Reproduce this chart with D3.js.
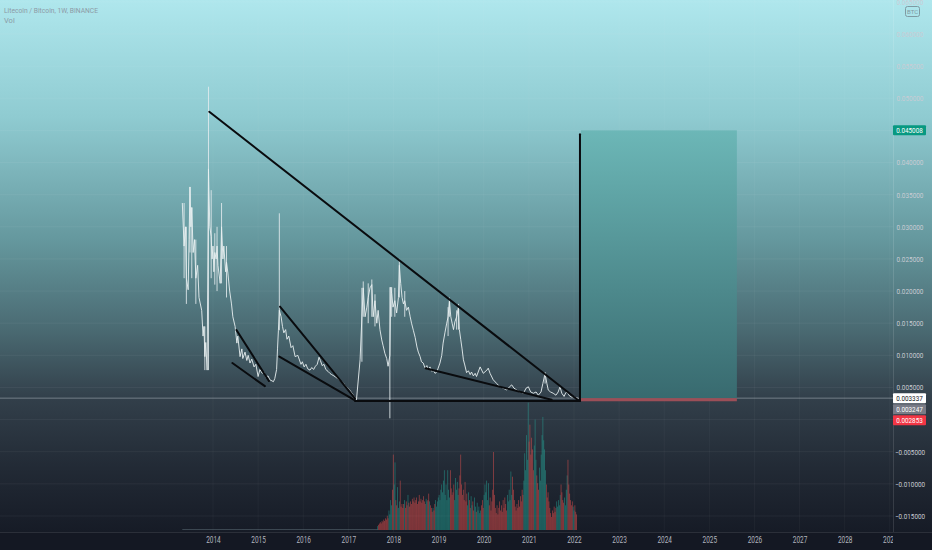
<!DOCTYPE html>
<html>
<head>
<meta charset="utf-8">
<script src="https://cdn.jsdelivr.net/npm/d3@7"></script>
<style>
html,body{margin:0;padding:0;background:#131722;overflow:hidden;}
svg{display:block;}
text{font-family:Roboto,"DejaVu Sans",sans-serif;}
</style>
</head>
<body>
<svg width="932" height="550"></svg>
<script>
// weekly closes, [decimal year, LTC/BTC]
var closes = [
 [2013.32,0.0337],[2013.36,0.027],[2013.39,0.030],[2013.41,0.022],[2013.45,0.0202],[2013.47,0.028],
 [2013.49,0.0362],[2013.51,0.030],[2013.53,0.033],[2013.56,0.026],[2013.59,0.028],[2013.62,0.022],
 [2013.66,0.024],[2013.69,0.019],[2013.75,0.017],[2013.78,0.013],[2013.80,0.0145],[2013.82,0.0098],
 [2013.84,0.012],[2013.87,0.0077],[2013.90,0.039],[2013.91,0.0357],[2013.93,0.030],[2013.96,0.0285],
 [2013.98,0.025],[2014.00,0.027],[2014.02,0.023],[2014.04,0.026],[2014.07,0.025],[2014.09,0.027],
 [2014.11,0.024],[2014.16,0.0212],[2014.19,0.030],[2014.22,0.025],[2014.24,0.027],[2014.28,0.023],
 [2014.30,0.0245],[2014.33,0.0228],[2014.37,0.020],[2014.41,0.018],[2014.44,0.016],[2014.49,0.0145],
 [2014.53,0.0119],[2014.55,0.0130],[2014.60,0.0098],[2014.64,0.0110],[2014.66,0.0095],[2014.71,0.0105],
 [2014.75,0.0092],[2014.78,0.0100],[2014.82,0.0088],[2014.86,0.0094],[2014.91,0.0082],[2014.95,0.0086],
 [2015.00,0.0067],[2015.04,0.0078],[2015.09,0.0072],[2015.13,0.0074],[2015.17,0.0066],[2015.22,0.0068],
 [2015.26,0.0062],[2015.34,0.0059],[2015.37,0.0064],[2015.41,0.0078],[2015.43,0.0110],[2015.45,0.0139],
 [2015.47,0.0170],[2015.51,0.0160],[2015.54,0.0145],[2015.57,0.0135],[2015.61,0.0140],[2015.64,0.0125],
 [2015.68,0.0130],[2015.73,0.0112],[2015.77,0.0115],[2015.82,0.0098],[2015.88,0.0100],[2015.95,0.0086],
 [2015.98,0.0090],[2016.02,0.0082],[2016.06,0.0086],[2016.10,0.0079],[2016.15,0.0077],[2016.19,0.0081],
 [2016.23,0.0078],[2016.27,0.0083],[2016.31,0.0086],[2016.35,0.0097],[2016.38,0.0092],[2016.42,0.0084],
 [2016.46,0.0086],[2016.50,0.0078],[2016.55,0.0075],[2016.59,0.0072],[2016.63,0.0070],[2016.68,0.0068],
 [2016.72,0.0066],[2016.76,0.0064],[2016.80,0.0061],[2016.85,0.0059],[2016.89,0.0057],[2016.94,0.0052],
 [2016.98,0.0049],[2017.03,0.0046],[2017.07,0.0042],[2017.11,0.0038],[2017.15,0.0034],[2017.18,0.0031],
 [2017.26,0.0093],[2017.30,0.0160],[2017.33,0.0205],[2017.37,0.0160],[2017.41,0.0175],[2017.44,0.0190],
 [2017.48,0.0205],[2017.52,0.0210],[2017.55,0.0160],[2017.59,0.0185],[2017.63,0.0150],[2017.66,0.0170],
 [2017.70,0.0140],[2017.74,0.0124],[2017.77,0.0115],[2017.81,0.0103],[2017.85,0.0095],[2017.88,0.0083],
 [2017.92,0.0100],[2017.94,0.0206],[2017.96,0.0196],[2017.99,0.0175],[2018.03,0.0185],[2018.07,0.0166],
 [2018.11,0.0190],[2018.13,0.0240],[2018.16,0.0212],[2018.19,0.0190],[2018.22,0.0180],[2018.25,0.0185],
 [2018.29,0.0170],[2018.33,0.0175],[2018.37,0.0160],[2018.40,0.0150],[2018.44,0.0139],[2018.48,0.0128],
 [2018.52,0.0113],[2018.55,0.0105],[2018.59,0.0098],[2018.62,0.0090],[2018.66,0.0088],[2018.70,0.0080],
 [2018.74,0.0084],[2018.77,0.0078],[2018.81,0.0082],[2018.85,0.0075],[2018.88,0.0077],[2018.92,0.0072],
 [2018.96,0.0074],[2018.99,0.0080],[2019.03,0.0088],[2019.07,0.0100],[2019.10,0.0119],[2019.14,0.0135],
 [2019.18,0.0150],[2019.21,0.0160],[2019.24,0.0185],[2019.27,0.0160],[2019.30,0.0150],[2019.33,0.0140],
 [2019.36,0.0152],[2019.40,0.0160],[2019.44,0.0175],[2019.46,0.0140],[2019.49,0.0125],[2019.52,0.0110],
 [2019.55,0.0093],[2019.58,0.0085],[2019.62,0.0073],[2019.66,0.0076],[2019.70,0.0070],[2019.73,0.0074],
 [2019.77,0.0068],[2019.81,0.0072],[2019.84,0.0067],[2019.92,0.0082],[2019.99,0.0072],[2020.07,0.0077],
 [2020.10,0.0080],[2020.14,0.0072],[2020.21,0.0062],[2020.29,0.0056],[2020.36,0.0051],[2020.43,0.0049],
 [2020.51,0.0046],[2020.57,0.0051],[2020.62,0.0054],[2020.67,0.0049],[2020.73,0.0046],[2020.80,0.0043],
 [2020.88,0.0041],[2020.94,0.0049],[2020.99,0.0051],[2021.04,0.0043],[2021.10,0.0041],[2021.16,0.0043],
 [2021.21,0.0038],[2021.27,0.0043],[2021.31,0.0056],[2021.36,0.0072],[2021.40,0.0056],[2021.43,0.0046],
 [2021.48,0.0043],[2021.54,0.0041],[2021.60,0.0038],[2021.65,0.0043],[2021.69,0.0051],[2021.73,0.0041],
 [2021.78,0.0036],[2021.82,0.0042],[2021.85,0.0043],[2021.90,0.0037],[2021.95,0.0035],[2022.00,0.0036],
 [2022.04,0.0034],[2022.10,0.0033]
];

// wick extremes [year, low, high]
var wicks = [
 [2013.36,0.0220,0.0337],[2013.41,0.0180,0.0300],[2013.49,0.0260,0.0362],[2013.53,0.0220,0.0330],
 [2013.62,0.0180,0.0280],[2013.82,0.0077,0.0145],[2013.90,0.0077,0.0518],[2013.96,0.0220,0.0357],
 [2014.04,0.0210,0.0290],[2014.09,0.0200,0.0300],[2014.19,0.0212,0.0337],[2014.30,0.0190,0.0270],
 [2015.47,0.0139,0.0321],[2017.30,0.0090,0.0205],[2017.33,0.0160,0.0215],[2017.44,0.0150,0.0212],
 [2017.52,0.0160,0.0218],[2017.59,0.0145,0.0195],[2017.92,0.0002,0.0206],[2017.96,0.0160,0.0206],
 [2018.03,0.0160,0.0205],[2018.13,0.0190,0.0250],[2018.25,0.0160,0.0200],[2019.21,0.0130,0.0175],
 [2019.24,0.0160,0.0190],[2019.40,0.0140,0.0170],[2019.44,0.0140,0.0180],[2021.36,0.0056,0.0074]
];

// weekly volume (relative units) from the first Binance week
var volumeStart = 2017.65;
var volumes = [
 3,4,5,6,5,7,6,8,7,9,8,11,9,15,12,23,19,31,58,35,52,23,19,33,17,22,38,18,20,17,
 20,23,17,22,19,27,21,18,22,20,24,22,25,21,23,25,20,22,27,22,24,21,23,26,22,20,24,22,
 23,28,22,19,17,14,17,15,20,23,18,22,25,27,23,31,35,29,38,46,27,35,23,46,31,25,46,32,
 27,29,35,23,40,31,37,27,32,42,58,35,27,31,23,37,22,28,19,29,23,17,26,19,22,15,25,18,
 14,21,15,18,13,15,19,23,17,27,35,29,38,23,36,19,25,15,22,31,60,27,17,13,19,12,17,22,
 15,19,14,23,17,25,20,15,27,22,31,23,45,27,41,31,23,18,15,20,17,23,18,26,22,31,27,38,
 59,46,73,54,98,68,81,58,71,62,46,65,85,54,42,36,31,48,38,58,73,87,69,62,46,35,25,29,
 22,17,13,10,15,13,18,14,17,22,18,23,19,27,35,29,23,21,25,19,31,42,54,35,28,23,19,22,
 18,15,19,14,12
];

// drawn trend lines [year1, price1, year2, price2]
var trendLines = [
 [2013.918,0.0479,2022.088,0.00305],
 [2017.147,0.0029,2022.133,0.0029],
 [2022.133,0.0029,2022.133,0.0444],
 [2014.52,0.01394,2015.24,0.0060],
 [2014.43,0.0088,2015.15,0.0052],
 [2015.485,0.01757,2017.147,0.0033],
 [2015.47,0.0098,2017.147,0.0030],
 [2018.71,0.0080,2021.504,0.0031]
];

// long position tool
var posStart = 2022.155, posEnd = 2025.61;
var entryPrice = 0.003337, targetPrice = 0.045008, stopPrice = 0.002853;
var lastPrices = [0.003337, 0.003247, 0.002853];

var yearTicks = d3.range(2014, 2030);
var priceTicks = d3.range(-0.015, 0.0651, 0.005);

var W = 932, H = 550, plotR = 893, axisY = 532;
var svg = d3.select('svg');

var x = d3.scaleLinear().domain([2009.28, 2029.07]).range([0, plotR]);
var y = d3.scaleLinear().domain([-0.01749, 0.06529]).range([axisY, 0]);
var yVol = d3.scaleLinear().domain([0, 100]).range([530, 400]);
var fmt = d3.format('.6f');

var defs = svg.append('defs');
var bg = defs.append('linearGradient').attr('id', 'bg').attr('x1', 0).attr('y1', 0).attr('x2', 0).attr('y2', 1);
[[0,'#afe7ed'],[0.22,'#8fcbd1'],[0.45,'#65989e'],[0.62,'#4a6a72'],[0.75,'#323f4a'],[0.88,'#222a35'],[1,'#161b26']]
	.forEach(function(s) { bg.append('stop').attr('offset', s[0]).attr('stop-color', s[1]); });
var tg = defs.append('linearGradient').attr('id', 'tg').attr('x1', 0).attr('y1', 0).attr('x2', 0).attr('y2', 1);
tg.append('stop').attr('offset', 0).attr('stop-color', '#6cb7b7');
tg.append('stop').attr('offset', 1).attr('stop-color', '#386a6f');
defs.append('clipPath').attr('id', 'plotClip').append('rect').attr('width', plotR).attr('height', axisY);
defs.append('clipPath').attr('id', 'timeClip').append('rect').attr('width', plotR).attr('height', 30);

svg.append('rect').attr('width', W).attr('height', axisY).attr('fill', 'url(#bg)');
svg.append('rect').attr('y', axisY).attr('width', W).attr('height', H - axisY).attr('fill', '#141823');

var plot = svg.append('g').attr('clip-path', 'url(#plotClip)');

//grid
plot.selectAll('line.hg').data(priceTicks).enter().append('line')
	.attr('x1', 0).attr('x2', plotR)
	.attr('y1', function(d) { return y(d); }).attr('y2', function(d) { return y(d); })
	.attr('stroke', 'rgba(255,255,255,0.05)');
plot.selectAll('line.vg').data(yearTicks).enter().append('line')
	.attr('y1', 0).attr('y2', axisY)
	.attr('x1', function(d) { return x(d); }).attr('x2', function(d) { return x(d); })
	.attr('stroke', 'rgba(255,255,255,0.035)');

// volume
var priceAt = function(yr) {
	var i = d3.bisector(function(d) { return d[0]; }).left(closes, yr);
	if (i <= 0) return closes[0][1];
	if (i >= closes.length) return closes[closes.length - 1][1];
	var a = closes[i - 1], b = closes[i];
	return a[1] + (b[1] - a[1]) * (yr - a[0]) / (b[0] - a[0]);
};
var wk = 7 / 365.25;
plot.append('line')
	.attr('x1', x(closes[0][0])).attr('x2', x(volumeStart))
	.attr('y1', yVol(0.4)).attr('y2', yVol(0.4))
	.attr('stroke', 'rgba(120,140,150,0.4)');
plot.selectAll('rect.vol').data(volumes).enter().append('rect')
	.attr('class', 'vol')
	.attr('x', function(d, i) { return x(volumeStart + i * wk) - 0.35; })
	.attr('width', 0.75)
	.attr('y', function(d) { return yVol(d); })
	.attr('height', function(d) { return yVol(0) - yVol(d); })
	.attr('fill', function(d, i) {
		var t = volumeStart + i * wk;
		return priceAt(t) >= priceAt(t - wk) ? 'rgba(38,166,154,0.6)' : 'rgba(239,83,80,0.6)';
	});

// last price line
plot.append('line').attr('x1', 0).attr('x2', plotR)
	.attr('y1', y(entryPrice)).attr('y2', y(entryPrice))
	.attr('stroke', 'rgba(210,220,225,0.4)');

// position box
plot.append('rect')
	.attr('x', x(posStart)).attr('width', x(posEnd) - x(posStart))
	.attr('y', y(targetPrice)).attr('height', y(entryPrice) - y(targetPrice))
	.attr('fill', 'url(#tg)');
plot.append('rect')
	.attr('x', x(posStart)).attr('width', x(posEnd) - x(posStart))
	.attr('y', y(entryPrice)).attr('height', y(stopPrice) - y(entryPrice))
	.attr('fill', '#9c4f58');

// price
plot.selectAll('line.wick').data(wicks).enter().append('line')
	.attr('x1', function(d) { return x(d[0]); }).attr('x2', function(d) { return x(d[0]); })
	.attr('y1', function(d) { return y(d[1]); }).attr('y2', function(d) { return y(d[2]); })
	.attr('stroke', '#e4ecef').attr('stroke-width', 1).attr('opacity', 0.85);
plot.append('path').datum(closes)
	.attr('d', d3.line().x(function(d) { return x(d[0]); }).y(function(d) { return y(d[1]); }))
	.attr('fill', 'none').attr('stroke', '#e8eff1').attr('stroke-width', 1).attr('opacity', 0.9);

// trend lines
plot.selectAll('line.tl').data(trendLines).enter().append('line')
	.attr('x1', function(d) { return x(d[0]); }).attr('y1', function(d) { return y(d[1]); })
	.attr('x2', function(d) { return x(d[2]); }).attr('y2', function(d) { return y(d[3]); })
	.attr('stroke', '#090b0e').attr('stroke-width', 2).attr('stroke-linecap', 'round');

// price axis
svg.append('line').attr('x1', plotR + 0.5).attr('x2', plotR + 0.5).attr('y1', 0).attr('y2', axisY)
	.attr('stroke', 'rgba(255,255,255,0.12)');
svg.append('line').attr('x1', 0).attr('x2', W).attr('y1', axisY + 0.5).attr('y2', axisY + 0.5)
	.attr('stroke', 'rgba(255,255,255,0.1)');
var yAxis = svg.append('g').attr('transform', 'translate(' + plotR + ',0)')
	.call(d3.axisRight(y).tickValues(priceTicks).tickSize(0).tickPadding(0).tickFormat(fmt));
yAxis.select('.domain').remove();
yAxis.selectAll('text').attr('x', 17).attr('text-anchor', 'middle')
	.attr('fill', '#c9ccd4').attr('font-size', 7.5).attr('font-family', null)
	.attr('textLength', function(d) { return fmt(d).length * 3.35; })
	.attr('lengthAdjust', 'spacingAndGlyphs');

// time axis
var xAxis = svg.append('g').attr('transform', 'translate(0,' + axisY + ')')
	.attr('clip-path', 'url(#timeClip)');
xAxis.call(d3.axisBottom(x).tickValues(yearTicks).tickSize(0).tickPadding(5).tickFormat(d3.format('d')));
xAxis.select('.domain').remove();
xAxis.selectAll('text').attr('fill', '#b2b5be').attr('font-size', 8.5).attr('font-family', null)
	.attr('textLength', 14.5).attr('lengthAdjust', 'spacingAndGlyphs');

// price labels
var labelStyles = [['#ffffff','#131722'],['#787b86','#ffffff'],['#f23645','#ffffff']];
var prevY = -100;
var labels = [[targetPrice, '#089981', '#ffffff']];
lastPrices.forEach(function(p, i) { labels.push([p, labelStyles[i][0], labelStyles[i][1]]); });
labels.forEach(function(l, i) {
	var ly = y(l[0]);
	if (i > 0) { ly = Math.max(ly, prevY + 11); prevY = ly; }
	var g = svg.append('g').attr('transform', 'translate(' + plotR + ',' + ly + ')');
	g.append('rect').attr('x', 0).attr('y', -5).attr('width', 33).attr('height', 10).attr('rx', 1).attr('fill', l[1]);
	g.append('text').attr('x', 16.5).attr('y', 2.8).attr('text-anchor', 'middle')
		.attr('font-size', 7.5).attr('fill', l[2])
		.attr('textLength', 26.5).attr('lengthAdjust', 'spacingAndGlyphs')
		.text(fmt(l[0]));
});

// currency badge
svg.append('rect').attr('x', 905.5).attr('y', 6.5).attr('width', 14).attr('height', 10).attr('rx', 2)
	.attr('fill', 'none').attr('stroke', '#7f9aa2');
svg.append('text').attr('x', 912.5).attr('y', 14).attr('text-anchor', 'middle')
	.attr('font-size', 6).attr('fill', '#7f9aa2').text('BTC');

// legend
svg.append('text').attr('x', 4).attr('y', 13).attr('font-size', 7.5).attr('fill', '#8c9aa6')
	.attr('textLength', 94).attr('lengthAdjust', 'spacingAndGlyphs')
	.text('Litecoin / Bitcoin, 1W, BINANCE');
svg.append('text').attr('x', 4).attr('y', 23).attr('font-size', 7.5).attr('fill', '#8c9aa6').text('Vol');
</script>
</body>
</html>
